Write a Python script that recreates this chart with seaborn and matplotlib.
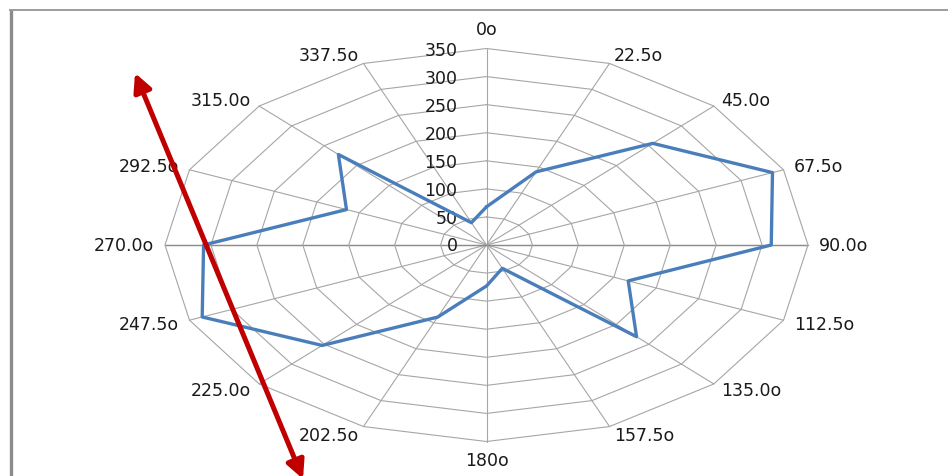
import numpy as np
import pandas as pd
import matplotlib
matplotlib.use("Agg")
import matplotlib.pyplot as plt
from matplotlib.lines import Line2D
import seaborn as sns

# Directions (degrees) and their labels
angles = [0, 22.5, 45, 67.5, 90, 112.5, 135, 157.5,
          180, 202.5, 225, 247.5, 270, 292.5, 315, 337.5]
angle_labels = ["0o", "22.5o", "45.0o", "67.5o", "90.0o", "112.5o", "135.0o", "157.5o",
                "180o", "202.5o", "225.0o", "247.5o", "270.0o", "292.5o", "315.0o", "337.5o"]
# Measured magnitude in each direction
values = [68, 141, 256, 337, 310, 167, 231, 45,
          73, 139, 253, 335, 308, 165, 228, 43]
# Radial grid rings
rings = [50, 100, 150, 200, 250, 300, 350]
ring_labels = ["50", "100", "150", "200", "250", "300", "350"]

sns.set_theme(style="white")
plt.rcParams["font.family"] = ["DejaVu Sans"]

W, H = 948, 477
fig = plt.figure(figsize=(W / 100, H / 100), dpi=100)
ax = fig.add_axes([0, 0, 1, 1])

# centre of the radar and pixel scale per unit (horizontal / vertical)
cx, cy = 486.5, 246.0
sx, sy = 321.5 / 350, 196.5 / 350
xlim = (-cx / sx, (W - cx) / sx)
ylim = (-(H - cy) / sy, cy / sy)

theta = np.deg2rad(np.array(angles))
sin_t, cos_t = np.sin(theta), np.cos(theta)
rmax = rings[-1]

grid_col = "#a6a6a6"
# spokes
for s, c in zip(sin_t, cos_t):
    ax.plot([0, rmax * s], [0, rmax * c], color=grid_col, lw=0.8, zorder=1)
# horizontal axis a little darker
ax.plot([-rmax, rmax], [0, 0], color="#8c8c8c", lw=1.0, zorder=1)
# rings
for r in rings:
    xs = np.append(r * sin_t, r * sin_t[0])
    ys = np.append(r * cos_t, r * cos_t[0])
    ax.plot(xs, ys, color=grid_col, lw=0.8, zorder=1)

txt_col = "#1a1a1a"
fs = 12.5
# radial value labels along the 0 degree spoke
ax.text(-29 / sx, 0, "0", ha="right", va="center", fontsize=fs, color=txt_col)
for r, lab in zip(rings, ring_labels):
    ax.text(-29 / sx, r - 1.5 / sy, lab, ha="right", va="center",
            fontsize=fs, color=txt_col)

# direction labels around the outside
for s, c, lab in zip(sin_t, cos_t, angle_labels):
    px, py = rmax * s, rmax * c
    if abs(s) < 1e-6:
        ha = "center"
        dx, dy = 0, 19 * np.sign(c)
    else:
        ha = "left" if s > 0 else "right"
        dx = 11 * s
        dy = 9 * c
    ax.text(px + dx / sx, py + dy / sy, lab, ha=ha, va="center",
            fontsize=fs, color=txt_col)

# data series, closed around the circle
df = pd.DataFrame({"angle": angles, "value": values})
df = pd.concat([df, df.iloc[[0]]], ignore_index=True)
df["x"] = df["value"] * np.sin(np.deg2rad(df["angle"]))
df["y"] = df["value"] * np.cos(np.deg2rad(df["angle"]))
sns.lineplot(data=df, x="x", y="y", sort=False, estimator=None,
             color="#4a7ebb", lw=2.4, ax=ax, zorder=3)
ax.set_xlim(*xlim)
ax.set_ylim(*ylim)
ax.set_axis_off()

# double-headed red arrow
ax.annotate("", xy=(135 / W, 1 - 74 / H), xytext=(303 / W, 1 - 480 / H),
            xycoords="figure fraction", textcoords="figure fraction",
            arrowprops=dict(arrowstyle="<|-|>", color="#c00000", lw=3.6,
                            mutation_scale=27, shrinkA=0, shrinkB=0),
            zorder=5, annotation_clip=False)

# chart frame (left and top edges)
fig.add_artist(Line2D([10.5 / W, 10.5 / W], [0, 1 - 10.5 / H], color="#8c8c8c",
                      lw=2.4, solid_capstyle="butt", transform=fig.transFigure))
fig.add_artist(Line2D([9 / W, 1], [1 - 10.5 / H, 1 - 10.5 / H], color="#8c8c8c",
                      lw=1.2, solid_capstyle="butt", transform=fig.transFigure))

fig.savefig("out.png", dpi=100)
